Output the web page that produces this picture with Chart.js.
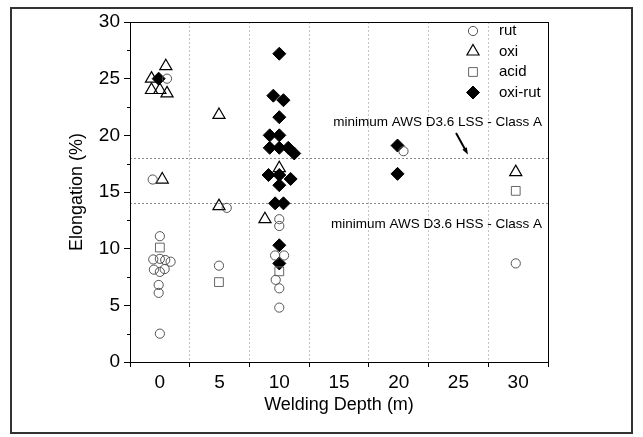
<!DOCTYPE html>
<html>
<head>
<meta charset="utf-8">
<script src="https://cdn.jsdelivr.net/npm/chart.js@4.4.0/dist/chart.umd.min.js"></script>
<style>
  html, body { margin: 0; padding: 0; background: #fff; }
  #wrap { width: 643px; height: 437px; }
</style>
</head>
<body>
<div id="wrap"><canvas id="elongChart" width="643" height="437"></canvas></div>
<script>
// x tick labels (welding depth, m) and y ticks (elongation, %)
const depthTicks = [0, 5, 10, 15, 20, 25, 30];
const elongTicks = [0, 5, 10, 15, 20, 25, 30];

// readings taken from the figure; x spread around each depth as plotted
const rutPoints = [
  {x: 0.6, y: 25.0}, {x: -0.6, y: 16.1}, {x: 0, y: 11.1},
  {x: -0.55, y: 9.05}, {x: 0, y: 9.1}, {x: 0.45, y: 9.0}, {x: 0.9, y: 8.85},
  {x: -0.5, y: 8.15}, {x: 0, y: 7.95}, {x: 0.4, y: 8.2},
  {x: -0.1, y: 6.8}, {x: -0.1, y: 6.1}, {x: 0, y: 2.5},
  {x: 5.6, y: 13.6}, {x: 4.95, y: 8.5},
  {x: 10, y: 12.6}, {x: 10, y: 12.0}, {x: 9.65, y: 9.4}, {x: 10.4, y: 9.4},
  {x: 9.7, y: 7.25}, {x: 10, y: 6.5}, {x: 10, y: 4.8},
  {x: 20.4, y: 18.6},
  {x: 29.8, y: 8.7}
];
const oxiPoints = [
  {x: -0.7, y: 25.0}, {x: 0.5, y: 26.1}, {x: -0.7, y: 24.0}, {x: 0, y: 24.0}, {x: 0.6, y: 23.7},
  {x: 0.2, y: 16.1},
  {x: 4.95, y: 21.8}, {x: 4.95, y: 13.75},
  {x: 8.8, y: 12.6}, {x: 10, y: 17.1},
  {x: 29.8, y: 16.75}
];
const acidPoints = [
  {x: 0, y: 10.1}, {x: 4.95, y: 7.05}, {x: 10, y: 8.0}, {x: 29.8, y: 15.1}
];
const oxiRutPoints = [
  {x: -0.1, y: 25.0},
  {x: 10, y: 27.2}, {x: 9.5, y: 23.5}, {x: 10.35, y: 23.1}, {x: 10, y: 21.6},
  {x: 9.2, y: 20.0}, {x: 10, y: 20.0},
  {x: 9.2, y: 18.9}, {x: 10, y: 18.9}, {x: 10.75, y: 18.9}, {x: 11.25, y: 18.4},
  {x: 9.1, y: 16.5}, {x: 10, y: 16.5}, {x: 10.95, y: 16.15}, {x: 10, y: 15.6},
  {x: 9.65, y: 14.0}, {x: 10.35, y: 14.0},
  {x: 10, y: 10.3}, {x: 10, y: 8.7},
  {x: 19.9, y: 19.1}, {x: 19.9, y: 16.6}
];

// AWS D3.6 minimum elongation limits
const limitValues = [18, 14];
const limitLabels = ['minimum AWS D3.6 LSS - Class A', 'minimum AWS D3.6 HSS - Class A'];
const arrowFrom = {x: 24.8, y: 20.2};
const arrowTo = {x: 25.8, y: 18.3};

const decorPlugin = {
  id: 'decor',
  beforeDraw(chart) {
    const ctx = chart.ctx;
    ctx.save();
    ctx.fillStyle = '#fff';
    ctx.fillRect(0, 0, chart.width, chart.height);
    ctx.strokeStyle = '#333';
    ctx.lineWidth = 2;
    ctx.strokeRect(11, 8, 621, 425);
    ctx.restore();
  },
  beforeDatasetsDraw(chart) {
    const {ctx, chartArea: a, scales: {y}} = chart;
    ctx.save();
    ctx.strokeStyle = '#8a8a8a';
    ctx.lineWidth = 1;
    ctx.setLineDash([2, 2]);
    limitValues.forEach(v => {
      const py = Math.round(y.getPixelForValue(v)) + 0.5;
      ctx.beginPath();
      ctx.moveTo(a.left, py);
      ctx.lineTo(a.right, py);
      ctx.stroke();
    });
    ctx.restore();
  },
  afterDraw(chart) {
    const {ctx, chartArea: a, scales: {x, y}} = chart;
    ctx.save();
    // frame
    ctx.strokeStyle = '#000';
    ctx.lineWidth = 1;
    ctx.strokeRect(a.left + 0.5, a.top + 0.5, a.right - a.left, a.bottom - a.top);
    // minor y ticks
    for (let v = 2.5; v < 30; v += 5) {
      const py = Math.round(y.getPixelForValue(v)) + 0.5;
      ctx.beginPath();
      ctx.moveTo(a.left - 3, py);
      ctx.lineTo(a.left, py);
      ctx.stroke();
    }
    // limit labels
    ctx.fillStyle = '#000';
    ctx.font = "13.5px 'Liberation Sans', Arial, sans-serif";
    ctx.textAlign = 'right';
    ctx.textBaseline = 'middle';
    ctx.fillText(limitLabels[0], a.right - 6, y.getPixelForValue(limitValues[0]) - 36);
    ctx.fillText(limitLabels[1], a.right - 6, y.getPixelForValue(limitValues[1]) + 21);
    // arrow
    const x1 = x.getPixelForValue(arrowFrom.x), y1 = y.getPixelForValue(arrowFrom.y);
    const x2 = x.getPixelForValue(arrowTo.x), y2 = y.getPixelForValue(arrowTo.y);
    const ang = Math.atan2(y2 - y1, x2 - x1);
    ctx.lineWidth = 2;
    ctx.beginPath();
    ctx.moveTo(x1, y1);
    ctx.lineTo(x2 - 5 * Math.cos(ang), y2 - 5 * Math.sin(ang));
    ctx.stroke();
    ctx.beginPath();
    ctx.moveTo(x2, y2);
    ctx.lineTo(x2 - 7 * Math.cos(ang) + 2.5 * Math.sin(ang), y2 - 7 * Math.sin(ang) - 2.5 * Math.cos(ang));
    ctx.lineTo(x2 - 7 * Math.cos(ang) - 2.5 * Math.sin(ang), y2 - 7 * Math.sin(ang) + 2.5 * Math.cos(ang));
    ctx.closePath();
    ctx.fill();
    // legend
    ctx.font = "15px 'Liberation Sans', Arial, sans-serif";
    ctx.textAlign = 'left';
    chart.data.datasets.forEach((ds, i) => {
      const lx = a.right - 75, ly = a.top + 9 + i * 20.5;
      ctx.lineWidth = ds.borderWidth;
      ctx.strokeStyle = ds.borderColor;
      ctx.fillStyle = ds.backgroundColor;
      Chart.helpers.drawPoint(ctx, {pointStyle: ds.pointStyle, radius: ds.pointRadius, borderWidth: ds.borderWidth, rotation: 0}, lx, ly);
      ctx.fillStyle = '#000';
      ctx.fillText(ds.label, lx + 26, ly);
    });
    ctx.restore();
  }
};

const ctx = document.getElementById('elongChart').getContext('2d');
Chart.defaults.font.family = "'Liberation Sans', Arial, sans-serif";
Chart.defaults.color = '#000';

new Chart(ctx, {
  type: 'scatter',
  data: {
    datasets: [
      {label: 'rut', data: rutPoints, pointStyle: 'circle', pointRadius: 4.6,
       borderColor: '#555', backgroundColor: 'rgba(0,0,0,0)', borderWidth: 1},
      {label: 'oxi', data: oxiPoints, pointStyle: 'triangle', pointRadius: 7,
       borderColor: '#000', backgroundColor: 'rgba(0,0,0,0)', borderWidth: 1.2},
      {label: 'acid', data: acidPoints, pointStyle: 'rect', pointRadius: 6.2,
       borderColor: '#666', backgroundColor: 'rgba(0,0,0,0)', borderWidth: 1},
      {label: 'oxi-rut', data: oxiRutPoints, pointStyle: 'rectRot', pointRadius: 6.5,
       borderColor: '#000', backgroundColor: '#000', borderWidth: 1}
    ]
  },
  options: {
    responsive: false,
    animation: false,
    layout: {padding: {top: 22, right: 95, left: 0, bottom: 0}},
    plugins: {legend: {display: false}, tooltip: {enabled: false}},
    scales: {
      x: {
        type: 'linear',
        min: -2.5,
        max: 32.5,
        afterBuildTicks: scale => {
          const t = [];
          for (let v = -2.5; v <= 32.5; v += 2.5) t.push({value: v});
          scale.ticks = t;
        },
        afterFit: scale => { scale.height = 75; },
        ticks: {
          autoSkip: false,
          maxRotation: 0,
          padding: 4,
          font: {size: 19},
          callback: v => depthTicks.includes(v) ? String(v) : ''
        },
        grid: {
          color: c => (c.tick && depthTicks.includes(c.tick.value)) ? 'rgba(0,0,0,0)' : '#c4c4c4',
          tickColor: c => (c.tick && depthTicks.includes(c.tick.value)) ? 'rgba(0,0,0,0)' : '#000',
          tickLength: 5,
          tickBorderDash: []
        },
        border: {color: '#000', width: 1, dash: [2, 2]},
        title: {display: true, text: 'Welding Depth (m)', font: {size: 18}, padding: {top: 0, bottom: 21}}
      },
      y: {
        min: 0,
        max: 30,
        afterBuildTicks: scale => { scale.ticks = elongTicks.map(v => ({value: v})); },
        afterFit: scale => { scale.width = 130; },
        ticks: {padding: 4, font: {size: 19}},
        grid: {drawOnChartArea: false, tickLength: 6, tickColor: '#000'},
        border: {color: '#000', width: 1},
        title: {display: true, text: 'Elongation (%)', font: {size: 18}, padding: {top: 66, bottom: 0}}
      }
    }
  },
  plugins: [decorPlugin]
});
</script>
</body>
</html>
